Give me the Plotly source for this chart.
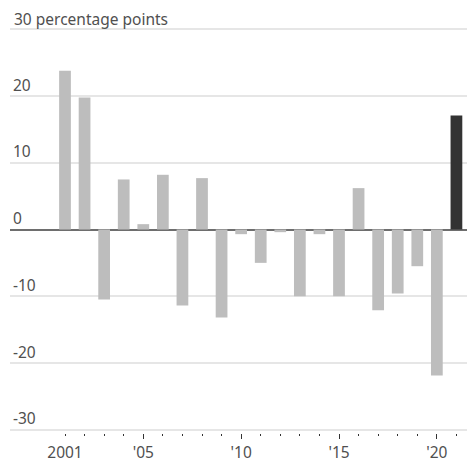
import plotly.graph_objects as go

years = list(range(2001, 2022))
values = [23.8, 19.8, -10.5, 7.5, 0.8, 8.2, -11.4, 7.7, -13.2, -0.7,
          -5.0, -0.4, -10.0, -0.7, -10.0, 6.2, -12.1, -9.6, -5.5, -21.9, 17.1]
bar_colors = ["#bdbdbd"] * 20 + ["#333333"]

y_tickvals = [-30, -20, -10, 0, 10, 20]
y_ticktext = ["-30", "-20", "-10", "0", "10", "20"]
y_top_val = 30
y_top_text = "30 percentage points"
x_tickvals = [2001, 2005, 2010, 2015, 2020]
x_ticktext = ["2001", "'05", "'10", "'15", "'20"]
x_major = [2005, 2010, 2015, 2020]

font_family = "Noto Sans, Liberation Sans, Arial, sans-serif"
text_color = "#505050"
fsize = 15.5

fig = go.Figure()
fig.add_trace(go.Bar(x=years, y=values, marker_color=bar_colors,
                     marker_line_width=0, width=0.6, showlegend=False))
fig.add_trace(go.Scatter(x=[years[0]], y=[0], xaxis="x2", mode="markers",
                         marker_opacity=0, showlegend=False, hoverinfo="skip"))

xr = [1998.19, 2021.54]
fig.update_layout(
    width=467, height=461,
    margin=dict(l=10, r=0, t=26, b=28, autoexpand=False),
    plot_bgcolor="white", paper_bgcolor="white",
    font=dict(family=font_family, size=fsize, color=text_color),
    xaxis=dict(range=xr, tickvals=x_tickvals, ticktext=x_ticktext,
               ticks="outside", ticklen=2, tickwidth=1, tickcolor="#333333",
               showgrid=False, zeroline=False, showline=False,
               automargin=False, ticklabelstandoff=3,
               minor=dict(tickvals=years, ticks="outside", ticklen=2,
                          tickcolor="#333333", tickwidth=1),
               tickfont=dict(size=fsize, color=text_color)),
    xaxis2=dict(range=xr, overlaying="x", side="bottom", anchor="y",
                tickvals=x_major, ticktext=["" for _ in x_major],
                ticks="outside", ticklen=5, tickwidth=1.2, tickcolor="#333333",
                showgrid=False, zeroline=False, showline=False,
                automargin=False),
    yaxis=dict(range=[-30.5, 30.5], tickvals=y_tickvals + [y_top_val],
               ticktext=y_ticktext + [""],
               ticklabelposition="inside top", showgrid=True,
               gridcolor="#e6e6e6", gridwidth=1.5,
               zeroline=True, zerolinecolor="#6e6e6e", zerolinewidth=2,
               ticks="", showline=False, automargin=False,
               tickfont=dict(size=fsize, color=text_color)),
    annotations=[dict(x=0, xref="paper", y=y_top_val, yref="y",
                      text=y_top_text, showarrow=False, xanchor="left",
                      yanchor="bottom", xshift=2, yshift=-3,
                      font=dict(size=fsize, color=text_color))],
)

fig.write_html("out.html", config={"displayModeBar": False})
with open("out.html", "r", encoding="utf-8") as f:
    html = f.read()
html = html.replace("<head>", "<head><style>html,body{margin:0;padding:0;overflow:hidden;}</style>", 1)
with open("out.html", "w", encoding="utf-8") as f:
    f.write(html)
